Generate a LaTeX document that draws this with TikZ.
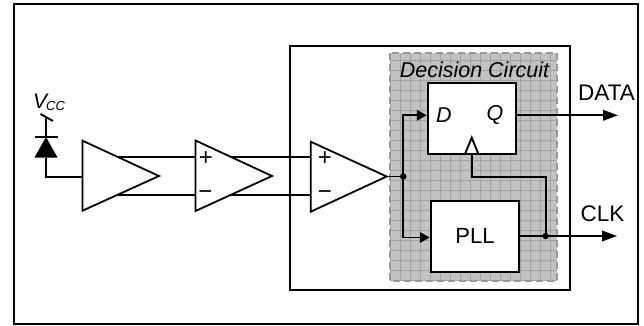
\documentclass[tikz,border=0pt]{standalone}
\usepackage{fontspec}
\setmainfont{Liberation Sans}
\usetikzlibrary{arrows.meta}
\tikzset{
  x=1pt,y=-1pt,
  wire/.style={line width=1.9pt,line cap=butt,line join=miter},
  sig/.style={wire,-{Triangle[length=15pt,width=10.5pt]}},
  sigin/.style={wire,-{Triangle[length=10pt,width=10.5pt]}},
  frame/.style={draw=black,line width=2pt,fill=white},
  block/.style={draw=black,line width=2pt,fill=white,inner sep=0pt,minimum width=88.5pt,minimum height=71.5pt,font=\fontsize{22}{26}\selectfont},
  amp/.style={draw=black,line width=1.8pt,fill=white,line join=miter},
  dot/.style={circle,fill=black,inner sep=0pt,minimum size=6.5pt},
  lbl/.style={inner sep=0pt,font=\fontsize{22.5}{26}\selectfont},
  ilbl/.style={inner sep=0pt,font=\fontsize{21.5}{26}\selectfont\itshape},
  pm/.style={inner sep=0pt,font=\fontsize{24}{26}\selectfont},
}
\begin{document}
\begin{tikzpicture}
\useasboundingbox (0,0) rectangle (644,326);
\fill[white] (0,0) rectangle (644,326);
\draw[frame] (14,4) rectangle (637.5,324);
\draw[frame] (290,46) rectangle (570,290);
% shaded region
\fill[black!24] (390,53) rectangle (557,281);
\begin{scope}
\clip (390,53) rectangle (557,281);
\foreach \i in {0,...,16} \draw[black!36,line width=.9pt] (390+10*\i,53) -- (390+10*\i,281);
\foreach \i in {0,...,22} \draw[black!36,line width=.9pt] (390,60+10*\i) -- (557,60+10*\i);
\end{scope}
\draw[black!40,line width=2pt,dash pattern=on 7pt off 4pt] (390,53) rectangle (557,281);

% coordinates
\coordinate (vtop) at (46,116.7);
\coordinate (cath) at (46,137);
\coordinate (anode) at (46,157.5);
\coordinate (a1in) at (82.5,177);
\coordinate (bend) at (46,177);
\coordinate (a1u) at (117.5,156.7);
\coordinate (a1l) at (117.5,195.3);
\coordinate (a2up) at (195.5,156.7);
\coordinate (a2lp) at (195.5,195.3);
\coordinate (a2u) at (231,156.7);
\coordinate (a2l) at (231,195.3);
\coordinate (a3up) at (310.7,156.7);
\coordinate (a3lp) at (310.7,195.3);
\coordinate (a3o) at (386.7,176.5);
\coordinate (dw) at (403.3,115.3);
\coordinate (pw) at (403.3,237.5);
\coordinate (ck1) at (471.7,176.7);
\coordinate (ck2) at (545.7,176.7);
\coordinate (dataend) at (618,115.3);
\coordinate (clkend) at (617,236);

% blocks
\node[block] (ff) at (472,118.4) {};
\node[block] (pll) at (475,236.4) {PLL};
\node[ilbl] at (474.5,69.5) {Decision Circuit};
\node[ilbl] (dl) at (444,115) {D};
\node[ilbl] (ql) at (495,115) {Q};

% connectors
\node[dot] (j1) at (403.3,176.5) {};
\node[dot] (j2) at (545.7,236) {};
\draw[wire] (vtop) -- (cath);
\draw[wire] (anode) -- (bend) -- (a1in);
\draw[wire] (a1u) -- (a2up);
\draw[wire] (a1l) -- (a2lp);
\draw[wire] (a2u) -- (a3up);
\draw[wire] (a2l) -- (a3lp);
\draw[wire] (a3o) -- (j1);
\draw[sigin] (j1.center) -- (dw) -- (ff.west |- dw);
\draw[sigin] (j1.center) -- (pw) -- (pll.west |- pw);
\draw[sig] (ff.east |- dw) -- (dataend);
\draw[wire] (ff.south -| ck1) -- (ck1) -- (ck2) -- (j2.center);
\draw[sig] (pll.east |- j2) -- (clkend);

% clock wedge
\draw[wire,line join=miter] (465,154) -- (471.7,137.7) -- (478.4,154);

% diode
\fill[black] (cath) -- (57.5,157.5) -- (34.5,157.5) -- cycle;
\draw[wire] (35,137) -- (58,137);
\draw[wire] (40.5,114) -- (53,121);
\node[inner sep=0pt,anchor=base west] (vcc) at (33,108) {\fontsize{21}{24}\selectfont\itshape V\kern-1pt\raisebox{-2pt}{\fontsize{13}{16}\selectfont CC}};

% amplifiers
\draw[amp] (82.5,140.7) -- (159,176) -- (82.5,210.7) -- cycle;
\draw[amp] (195.5,140.5) -- (272,176) -- (195.5,211) -- cycle;
\draw[amp] (310.7,141.7) -- (386.7,176.5) -- (310.7,211.7) -- cycle;
\node[pm] at (206,158.5) {+};
\node[pm] at (205.5,195.5) {−};
\node[pm] at (325,158.5) {+};
\node[pm] at (325,195) {−};

% outputs labels
\node[lbl] at (606.5,92.5) {DATA};
\node[lbl] at (602.5,214) {CLK};
\end{tikzpicture}
\end{document}
